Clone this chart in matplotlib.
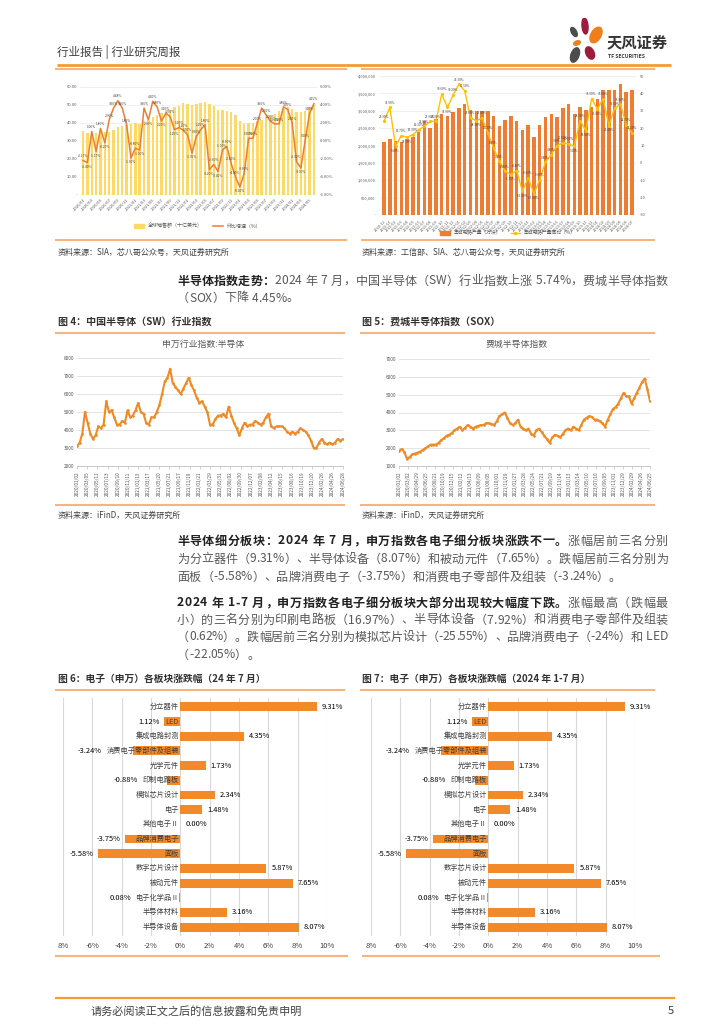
import numpy as np
import matplotlib
matplotlib.use('Agg')
import matplotlib.pyplot as plt
from matplotlib.lines import Line2D
from matplotlib.patches import Patch, Ellipse

plt.rcParams['font.family'] = ['Noto Sans CJK SC', 'DejaVu Sans']
plt.rcParams['axes.unicode_minus'] = False

# ---- data: global semiconductor sales (SIA), monthly ----
sia_months = [f'{y}/{m:02d}' for y in range(2020, 2025) for m in range(1, 13)][:54]
sia_sales = [35.3, 34.7, 34.9, 34.4, 34.8, 35.2, 35.2, 36.2, 37.9, 38.6, 39.0, 39.6,
             40.0, 39.6, 41.0, 41.8, 43.6, 44.5, 45.4, 47.2, 47.2, 48.8, 49.7, 50.9,
             50.8, 50.0, 50.6, 50.9, 51.8, 50.8, 49.6, 47.4, 47.0, 46.9, 46.0, 44.3,
             41.3, 39.7, 39.8, 40.0, 41.2, 41.5, 43.2, 44.0, 44.9, 46.6, 48.0, 48.7,
             47.6, 46.2, 45.9, 46.4, 49.1, 50.0]
sia_mom = [-2.17, -2.40, 1.06, -1.17, 1.40, -0.20, 2.36, 3.66, 4.48, 3.66, 1.80, -1.90,
           -0.80, -1.00, 3.66, 2.36, 4.40, 3.80, 2.20, 3.10, 2.70, 1.25, 1.50, 1.20,
           0.70, -1.35, 0.50, 1.25, 1.80, -3.20, -2.60, -3.40, -1.00, -0.60, -2.50, -4.00,
           -5.10, -3.60, 0.30, 0.30, 2.00, 3.66, 2.90, 2.20, 1.90, 1.90, 3.80, 3.50,
           2.00, -2.30, -3.00, 0.10, 3.10, 4.15]

# ---- data: China IC output ----
ic_months = [f'{y}-{m:02d}' for y in range(2020, 2025) for m in range(1, 13)][11:55]
ic_output = [2110000, 2190000, 2130000, 2100000, 2190000, 2240000, 2400000, 2710000, 2500000, 2760000, 2900000,
             2860000, 2970000, 3070000, 3190000, 3030000, 2980000, 2980000, 2980000, 2840000, 2570000, 2740000,
             2860000, 2710000, 2460000, 2590000, 2240000, 2590000, 2830000, 2920000, 2810000, 3070000, 3190000,
             2900000, 3120000, 3030000, 3120000, 3330000, 3600000, 3600000, 3600000, 3760000, 3540000, 3600000]
ic_yoy = [23.9, 31.9, 9.6, 15.7, 14.7, 16.3, 19.1, 21.0, 23.9, 23.9, 39.6,
          31.9, 39.2, 45.3, 41.5, 25.8, 24.3, 25.8, 17.2, 8.6, 1.0, -4.8,
          -6.7, -4.4, -16.3, -8.6, -17.8, -9.6, 0.4, 4.8, 9.9, 11.5, 10.9,
          9.6, 24.3, 18.5, 36.9, 31.0, 36.9, 21.4, 31.5, 33.8, 22.0, 17.2]

# ---- data: SW semiconductor index ----
sw_index = [3100, 3300, 3800, 5000, 4400, 3800, 3500, 3700, 4200, 4100, 4300, 5600, 5000, 5100,
            4700, 4300, 4300, 4500, 4400, 5100, 4700, 4800, 5100, 5500, 5000, 4900, 4400, 4300,
            4700, 4700, 5000, 5400, 6000, 6700, 6900, 7400, 6600, 6400, 6200, 6000, 6300, 6600,
            6900, 6500, 6200, 5800, 5500, 5600, 5300, 5000, 4300, 4300, 4600, 4800, 4800, 4900,
            4700, 5300, 4800, 4400, 4100, 3700, 4100, 4400, 4200, 4300, 4300, 4500, 4400, 4300,
            4400, 4700, 4900, 4200, 4100, 4200, 4200, 4200, 4100, 3900, 3800, 3900, 3800, 3900,
            4100, 4000, 3900, 3700, 3400, 3000, 3000, 3300, 3500, 3300, 3200, 3300, 3200, 3300,
            3500, 3400, 3500]
sw_dates = ['2020/01/02', '2020/03/05', '2020/05/11', '2020/07/13', '2020/09/10', '2020/11/11',
            '2021/01/13', '2021/03/17', '2021/05/20', '2021/07/21', '2021/09/17', '2021/11/19',
            '2022/01/21', '2022/03/29', '2022/05/31', '2022/08/02', '2022/09/30', '2022/12/07',
            '2023/02/08', '2023/04/12', '2023/06/15', '2023/08/16', '2023/10/19', '2023/12/20',
            '2024/02/26', '2024/04/26', '2024/06/28']

# ---- data: Philadelphia semiconductor index ----
sox_index = [1850, 1950, 1800, 1400, 1500, 1650, 1700, 1750, 1800, 1900, 2000, 2100, 2200, 2200,
             2200, 2300, 2450, 2550, 2700, 2750, 2850, 3000, 3100, 3200, 3000, 3150, 3300, 3200,
             3100, 3200, 3250, 3300, 3300, 3400, 3400, 3350, 3300, 3500, 3800, 3900, 4000, 3700,
             3400, 3300, 3400, 3600, 3200, 3100, 3000, 3100, 2800, 2700, 3000, 3100, 2900, 2700,
             2500, 2300, 2600, 2750, 2700, 2600, 2800, 3000, 3100, 3000, 3200, 3100, 3000, 3300,
             3600, 3700, 3800, 3750, 3600, 3600, 3500, 3400, 3200, 3600, 3900, 4200, 4300, 4500,
             4800, 5100, 4900, 4900, 4500, 4800, 5100, 5400, 5700, 5900, 5300, 4650]
sox_dates = ['2020/01/02', '2020/03/02', '2020/04/29', '2020/06/25', '2020/08/21', '2020/10/19',
             '2020/12/15', '2021/02/12', '2021/04/13', '2021/06/09', '2021/08/05', '2021/10/01',
             '2021/11/29', '2022/01/27', '2022/03/28', '2022/05/24', '2022/07/21', '2022/09/19',
             '2022/11/14', '2023/01/13', '2023/03/14', '2023/05/10', '2023/07/10', '2023/09/05',
             '2023/11/01', '2023/12/29', '2024/02/29', '2024/04/26', '2024/06/25']

# ---- data: SW electronics sub-sectors ----
sectors = ['分立器件', 'LED', '集成电路封测', '消费电子零部件及组装', '光学元件', '印制电路板',
           '模拟芯片设计', '电子', '其他电子Ⅱ', '品牌消费电子', '面板', '数字芯片设计',
           '被动元件', '电子化学品Ⅱ', '半导体材料', '半导体设备']
changes = [9.31, -1.12, 4.35, -3.24, 1.73, -0.88, 2.34, 1.48, 0.00, -3.75, -5.58, 5.87,
           7.65, -0.08, 3.16, 8.07]
change_labels = ['9.31%', '1.12%', '4.35%', '-3.24%', '1.73%', '-0.88%', '2.34%', '1.48%',
                 '0.00%', '-3.75%', '-5.58%', '5.87%', '7.65%', '0.08%', '3.16%', '8.07%']
pct_ticks = ['8%', '-6%', '-4%', '-2%', '0%', '2%', '4%', '6%', '8%', '10%']

W, H = 724, 1024
fig = plt.figure(figsize=(W / 100, H / 100), dpi=100)
fig.patch.set_facecolor('white')
rend = fig.canvas.get_renderer()

ORANGE = '#F39C32'
PANEL = '#F7B57C'
DARK = '#333333'
GREY = '#595959'


def px_axes(x0, y0, x1, y1):
    return fig.add_axes([x0 / W, 1 - y1 / H, (x1 - x0) / W, (y1 - y0) / H])


def put(x, y, s, **kw):
    kw.setdefault('va', 'center')
    return fig.text(x / W, 1 - y / H, s, **kw)


def rule(x0, x1, y, color=PANEL, lw=1.5):
    fig.add_artist(Line2D([x0 / W, x1 / W], [1 - y / H, 1 - y / H], color=color, lw=lw,
                          solid_capstyle='butt'))


def para_line(x, y, segs, right=None, fs=8.7):
    objs, widths = [], []
    for s, bold, col in segs:
        for ch in s:
            t = put(x, y, ch, fontsize=fs, fontweight='bold' if bold else 'normal', color=col)
            w = fs * 100 / 72 * 0.28 if ch == ' ' else t.get_window_extent(rend).width
            objs.append(t)
            widths.append(w)
    gap = 0.0
    if right is not None:
        gap = (right - x - sum(widths)) / (len(objs) - 1)
    cx = x
    for t, w in zip(objs, widths):
        t.set_x(cx / W)
        cx += w + gap


def point_labels(ax, xs, vals, off, fs, fmt):
    # label above local peaks, below local troughs
    for i, (xi, v) in enumerate(zip(xs, vals)):
        prev = vals[i - 1] if i > 0 else v
        nxt = vals[i + 1] if i < len(vals) - 1 else v
        low = v < prev and v < nxt
        ax.text(xi, v - off if low else v + off, fmt.format(v), fontsize=fs, ha='center',
                va='top' if low else 'bottom', color='#404040', zorder=4)


# ---------- header ----------
put(57, 52, '行业报告 | 行业研究周报', fontsize=8.3, color='#404040')
rule(57, 671, 65, color=ORANGE, lw=2)
lax = px_axes(566, 18, 606, 64)
lax.set_xlim(0, 40)
lax.set_ylim(0, 46)
lax.axis('off')
for (cx, cy, w, h, a, c) in [(19, 38, 6, 16, 5, '#9E1B3C'), (8, 32, 5, 10, 30, '#4D4D4D'),
                             (30, 29, 10, 17, -30, '#EE7F1A'), (11, 21, 7, 4, 20, '#EE7F1A'),
                             (9, 9, 8, 15, -20, '#4D4D4D'), (24, 11, 8, 13, 25, '#9E1B3C')]:
    lax.add_patch(Ellipse((cx, cy), w, h, angle=a, color=c))
put(607, 42, '天风证券', fontsize=11, fontweight='bold', color=DARK)
put(608, 57, 'TF SECURITIES', fontsize=3.6, fontweight='bold', color=DARK)

# ---------- top-left: SIA global sales ----------
rule(55, 347, 69)
rule(55, 347, 240)
ax1 = px_axes(80, 87, 317, 195)
x1 = np.arange(len(sia_sales))
ax1.bar(x1, sia_sales, width=0.55, color='#FFD966', zorder=2)
ax1.set_ylim(0, 60)
ax1.set_yticks(range(0, 61, 10))
ax1.set_yticklabels(['-', '10.00', '20.00', '30.00', '40.00', '50.00', '60.00'])
ax1.set_xlim(-0.7, len(x1) - 0.3)
ax1.set_xticks(x1[::2])
ax1.set_xticklabels(sia_months[::2], rotation=45, ha='right', rotation_mode='anchor')
ax1.grid(axis='y', color='#E3E3E3', lw=0.4, zorder=0)
ax1b = ax1.twinx()
ax1b.plot(x1, sia_mom, color='#ED7D31', lw=1.1, zorder=3)
ax1b.set_ylim(-6, 6)
ax1b.set_yticks(range(-6, 7, 2))
ax1b.set_yticklabels([f'{v:.2f}%' for v in range(-6, 7, 2)])
point_labels(ax1b, x1, sia_mom, 0.25, 2.3, '{:.2f}%')
for a in (ax1, ax1b):
    for s in a.spines.values():
        s.set_visible(False)
    a.tick_params(length=0, labelsize=3, labelcolor=GREY, pad=2)
fig.legend([Patch(color='#FFD966'), Line2D([], [], color='#ED7D31', lw=1.1)],
           ['全球销售额（十亿美元）', '环比增速（%）'], loc='center', ncol=2, frameon=False,
           fontsize=3.6, bbox_to_anchor=(198 / W, 1 - 226 / H), handlelength=2, columnspacing=2,
           labelcolor=GREY)
put(58, 252, '资料来源：SIA，芯八哥公众号，天风证券研究所', fontsize=5.8, color='#404040')

# ---------- top-right: China IC output ----------
rule(361, 655, 69)
rule(361, 655, 240)
ax2 = px_axes(380, 76, 636, 215)
x2 = np.arange(len(ic_output))
ax2.bar(x2, ic_output, width=0.6, color='#ED7D31', zorder=2)
ax2.set_ylim(0, 4000000)
ax2.set_yticks(range(0, 4000001, 500000))
ax2.set_yticklabels(['-'] + [f'{v:,}' for v in range(500000, 4000001, 500000)])
ax2.set_xlim(-0.7, len(x2) - 0.3)
ax2.set_xticks(x2)
ax2.set_xticklabels(ic_months, rotation=45, ha='right', rotation_mode='anchor')
ax2.grid(axis='y', color='#E3E3E3', lw=0.4, zorder=0)
ax2b = ax2.twinx()
ax2b.plot(x2, ic_yoy, color='#FFC000', lw=1.0, marker='o', ms=1.2, zorder=3)
ax2b.set_ylim(-30, 50)
ax2b.set_yticks(range(-30, 51, 10))
point_labels(ax2b, x2, ic_yoy, 1.5, 2.2, '{:.2f}%')
for a in (ax2, ax2b):
    for s in a.spines.values():
        s.set_visible(False)
    a.tick_params(length=0, labelsize=2.8, labelcolor=GREY, pad=3)
fig.legend([Patch(color='#ED7D31'), Line2D([], [], color='#FFC000', lw=1.0, marker='o', ms=1.5)],
           ['集成电路产量（万块）', '集成电路产量同比（%）'], loc='center', ncol=2, frameon=False,
           fontsize=3.4, bbox_to_anchor=(508 / W, 1 - 233 / H), handlelength=2, columnspacing=2,
           labelcolor=GREY)
put(362, 252, '资料来源：工信部、SIA、芯八哥公众号，天风证券研究所', fontsize=5.8, color='#404040')

# ---------- paragraph 1 ----------
para_line(177, 281, [('半导体指数走势：', True, '#222222'),
                     ('2024 年 7 月，中国半导体（SW）行业指数上涨 5.74%，费城半导体指数', False, GREY)],
          right=668)
para_line(177, 298, [('（SOX）下降 4.45%。', False, GREY)])

# ---------- fig 4 / fig 5 ----------
put(58, 322, '图 4：中国半导体（SW）行业指数', fontsize=7.2, fontweight='bold', color=DARK)
put(362, 322, '图 5：费城半导体指数（SOX）', fontsize=7.2, fontweight='bold', color=DARK)
rule(55, 345, 333)
rule(360, 655, 333)
rule(55, 345, 505)
rule(360, 655, 505)
put(203, 344, '申万行业指数:半导体', fontsize=6.4, color=GREY, ha='center')
put(517, 344, '费城半导体指数', fontsize=6.4, color=GREY, ha='center')


def line_panel(ax, vals, dates, lo, hi):
    xs = np.arange(len(vals))
    ax.plot(xs, vals, color='#F08A24', lw=1.5, marker='.', ms=1.8, zorder=3)
    ax.set_ylim(lo, hi)
    ax.set_yticks(range(lo, hi + 1, 1000))
    ax.set_xlim(0, len(vals) - 1)
    ax.set_xticks(np.linspace(0, len(vals) - 1, len(dates)))
    ax.set_xticklabels(dates, rotation=90, ha='center', va='top')
    ax.grid(axis='y', color='#D9D9D9', lw=0.5, zorder=0)
    for k, s in ax.spines.items():
        s.set_visible(k == 'bottom')
    ax.spines['bottom'].set_color('#BFBFBF')
    ax.spines['bottom'].set_linewidth(0.6)
    ax.tick_params(length=0, labelsize=3.4, labelcolor=GREY, pad=2)
    ax.tick_params(axis='x', length=2, color='#BFBFBF', width=0.5)


ax3 = px_axes(77, 358, 343, 466)
line_panel(ax3, sw_index, sw_dates, 2000, 8000)
ax4 = px_axes(399, 359, 650, 466)
line_panel(ax4, sox_index, sox_dates, 1000, 7000)
put(58, 515, '资料来源：iFinD，天风证券研究所', fontsize=5.8, color='#404040')
put(362, 515, '资料来源：iFinD，天风证券研究所', fontsize=5.8, color='#404040')

# ---------- paragraphs 2 and 3 ----------
para_line(177, 541, [('半导体细分板块：2024 年 7 月，申万指数各电子细分板块涨跌不一。', True, '#222222'),
                     ('涨幅居前三名分别', False, GREY)], right=668)
para_line(177, 559, [('为分立器件（9.31%）、半导体设备（8.07%）和被动元件（7.65%）。跌幅居前三名分别为', False, GREY)],
          right=668)
para_line(177, 577, [('面板（-5.58%）、品牌消费电子（-3.75%）和消费电子零部件及组装（-3.24%）。', False, GREY)])
para_line(177, 603, [('2024 年 1-7 月，申万指数各电子细分板块大部分出现较大幅度下跌。', True, '#222222'),
                     ('涨幅最高（跌幅最', False, GREY)], right=668)
para_line(177, 620, [('小）的三名分别为印刷电路板（16.97%）、半导体设备（7.92%）和消费电子零部件及组装', False, GREY)],
          right=668)
para_line(177, 637, [('（0.62%）。跌幅居前三名分别为模拟芯片设计（-25.55%）、品牌消费电子（-24%）和 LED', False, GREY)],
          right=668)
para_line(177, 655, [('（-22.05%）。', False, GREY)])

# ---------- fig 6 / fig 7 ----------
put(58, 679, '图 6：电子（申万）各板块涨跌幅（24 年 7 月）', fontsize=7, fontweight='bold', color=DARK)
put(362, 679, '图 7：电子（申万）各板块涨跌幅（2024 年 1-7 月）', fontsize=7, fontweight='bold', color=DARK)
rule(55, 345, 690)
rule(360, 655, 690)
rule(55, 348, 956)
rule(362, 660, 956)


def bar_panel(ax):
    ys = np.arange(len(sectors))
    ax.barh(ys, changes, height=0.6, color='#F28A2A', zorder=2)
    ax.set_xlim(-8, 10)
    ax.set_ylim(len(sectors) - 0.4, -0.6)
    ax.set_xticks(range(-8, 11, 2))
    ax.set_xticklabels(pct_ticks)
    ax.set_yticks([])
    ax.grid(axis='x', color='#D9D9D9', lw=0.8, zorder=0)
    for s in ax.spines.values():
        s.set_visible(False)
    ax.tick_params(axis='x', length=0, labelsize=5.5, labelcolor='#404040', pad=4)
    inv = ax.transData.inverted()
    for i, (name, v, lab) in enumerate(zip(sectors, changes, change_labels)):
        t = ax.text(-0.1, i, name, ha='right', va='center', fontsize=5.2, color='#404040', zorder=3)
        if v >= 0:
            ax.text(v + 0.35, i, lab, ha='left', va='center', fontsize=5.4, color='black')
        else:
            left = inv.transform((t.get_window_extent(rend).x0, 0))[0]
            ax.text(min(v, left) - 0.3, i, lab, ha='right', va='center', fontsize=5.4, color='black')


ax5 = px_axes(63, 698, 327, 936)
bar_panel(ax5)
ax6 = px_axes(371, 698, 635, 936)
bar_panel(ax6)

# ---------- footer ----------
rule(55, 675, 998, color=ORANGE, lw=1.6)
put(91, 1011, '请务必阅读正文之后的信息披露和免责申明', fontsize=8, color='#404040')
put(668, 1011, '5', fontsize=8, color='#404040')

fig.savefig('out.png', dpi=100, facecolor='white')
